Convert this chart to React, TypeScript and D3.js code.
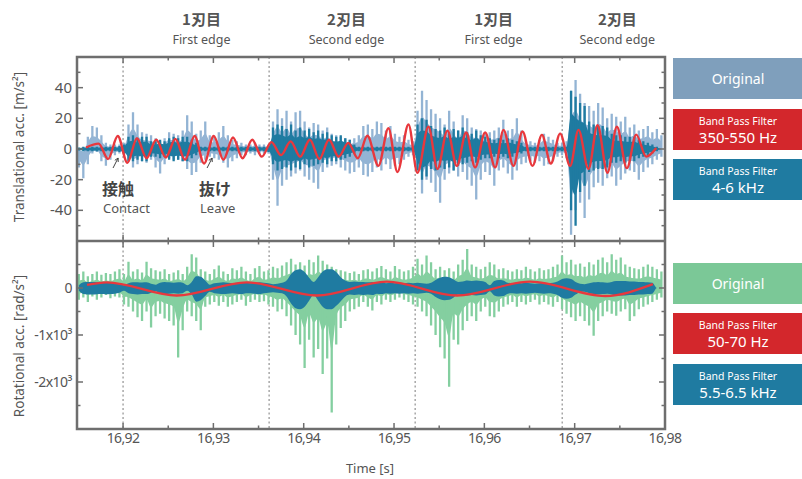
import React from 'react';
import * as d3 from 'd3';

// sampled envelopes: sample i at time T0 + i*DT
const T0 = 16.9151;
const DT = 0.0005;

const topOrigU = [0,-3,8,15,14,9,4,3,3,3, 4,16,24,16,11,10,9,7,5,7, 11,10,9,12,22,18,10,12,18,9, 8,11,15,9,6,5,4,3,3,4, 3,3,3,18,26,20,25,18,24,25, 18,14,17,16,12,14,10,9,8,7, 6,7,9,15,16,13,18,17,12,15, 10,8,9,6,5,25,38,32,26,23, 20,16,25,18,12,22,20,14,13,12, 10,11,12,14,19,12,13,20,12,6, 5,4,6,10,8,6,4,4,5,38, 45,36,30,28,25,30,27,20,23,21, 18,21,14,16,12,13,15,11,13,9];
const topOrigL = [-12,-19,-10,-3,-2,-8,-11,-7,-4,-3, -4,-8,-12,-10,-8,-9,-7,-12,-16,-10, -6,-7,-7,-8,-13,-17,-15,-9,-7,-5, -6,-7,-9,-12,-8,-6,-4,-4,-3,-4, -3,-3,-3,-20,-37,-24,-20,-18,-16,-14, -18,-20,-22,-26,-15,-12,-11,-10,-12,-14, -16,-15,-12,-17,-18,-15,-12,-14,-10,-13, -11,-10,-7,-5,-4,-14,-29,-20,-22,-28, -35,-20,-16,-14,-18,-15,-20,-24,-33,-20, -15,-17,-24,-14,-12,-16,-20,-14,-10,-9, -8,-9,-8,-11,-10,-8,-5,-4,-6,-56, -40,-35,-45,-33,-25,-22,-24,-19,-18,-24, -20,-16,-14,-15,-20,-15,-12,-10,-7,-5];
const topBandU = [1,1.5,1.5,1.5,1.5,1.5,1.5,1.5,1.5,2, 3,8,9,7,8,8,5,5,6,5, 7,8,7,8,8,6,4,1.5,1.5,1.5, 1.5,1.5,1.5,1.5,1.5,1.5,1.5,1.5,1.5,1.5, 1.5,1.5,2,14,16,15,13,16,12,14, 12,13,11,12,10,11,9,8,9,7, 6,3,1.5,1.5,1.5,1.5,1.5,1.5,1.5,1.5, 1.5,1.5,1.5,1.5,1.5,16,20,19,15,13, 12,14,11,13,12,14,11,10,12,9, 8,7,6,7,6,7,6,5,4,1.5, 1.5,1.5,1.5,1.5,1.5,1.5,1.5,1.5,1.5,38, 34,30,28,18,16,15,15,14,10,9, 9,8,8,8,6,5,4,3,1.5,0];
const topBandL = [-1,-1.5,-1.5,-1.5,-1.5,-1.5,-1.5,-1.5,-1.5,-2, -3,-8,-8,-7,-8,-8,-5,-5,-6,-5, -7,-8,-7,-8,-8,-6,-4,-1.5,-1.5,-1.5, -1.5,-1.5,-1.5,-1.5,-1.5,-1.5,-1.5,-1.5,-1.5,-1.5, -1.5,-1.5,-2,-10,-14,-13,-12,-14,-12,-13, -10,-12,-11,-10,-9,-10,-8,-8,-7,-6, -5,-3,-1.5,-1.5,-1.5,-1.5,-1.5,-1.5,-1.5,-1.5, -1.5,-1.5,-1.5,-1.5,-1.5,-14,-20,-18,-13,-14, -12,-13,-12,-14,-11,-10,-9,-8,-9,-7, -6,-6,-5,-6,-5,-6,-5,-4,-3,-1.5, -1.5,-1.5,-1.5,-1.5,-1.5,-1.5,-1.5,-1.5,-1.5,-40, -50,-28,-24,-15,-14,-13,-13,-12,-9,-9, -8,-9,-8,-8,-6,-5,-4,-3,-1.5,0];
const topRedT = [16.9159,16.91729,16.91834,16.91941,16.92048,16.92154,16.9226,16.92367,16.92473,16.92579,16.92686,16.92792,16.92897,16.93004,16.93111,16.93217,16.93323,16.9343,16.93536,16.93642,16.93749,16.93855,16.93961,16.94068,16.94174,16.9428,16.94387,16.94493,16.94599,16.94705,16.94827,16.94938,16.95038,16.9516,16.95259,16.95381,16.95481,16.95591,16.95696,16.95798,16.95898,16.96009,16.9612,16.96212,16.96322,16.96422,16.96533,16.96637,16.96736,16.96839,16.9695,16.97042,16.97153,16.97253,16.97363,16.97467,16.97578,16.97681,16.97792,16.97903];
const topRedV = [1,3.5,-6.5,8.5,-9,7,-6,6,-5.5,6.5,-7,8.5,-9.5,8.5,-7,7.5,-6,6,-5,4.5,-4,5,-5,6,-6.5,6,-5,4,-6,8.6,-11,13.5,-15,16,-15.5,14.5,-13,12,-11,10.8,-12,10.8,-12,12.5,-11,11.4,-11,9.2,-9.5,10,-11,12.5,-13,15.5,-15.5,14.5,-12.5,9.4,-5,0.6];

const botOrigU = [300,350,250,300,350,280,320,300,350,400, 300,560,350,400,330,560,420,380,350,400, 300,330,380,300,450,720,650,400,350,300, 400,480,350,300,420,380,450,350,300,420, 470,350,380,450,420,480,550,620,500,550, 480,600,550,690,580,500,450,400,380,350, 320,350,300,380,400,350,420,470,400,350, 470,400,350,380,450,620,500,690,550,400, 450,380,420,350,500,600,830,500,450,400, 450,550,500,400,420,380,350,400,380,450, 400,350,420,380,400,450,500,690,550,600, 500,520,450,550,500,600,650,550,720,600, 650,500,450,420,400,450,500,450,400,350];
const botOrigL = [-250,-200,-300,-180,-250,-200,-150,-220,-180,-200, -350,-400,-500,-620,-700,-500,-840,-600,-550,-650, -700,-800,-1480,-900,-500,-600,-700,-900,-400,-350, -300,-380,-300,-400,-350,-300,-250,-380,-300,-250, -300,-280,-350,-400,-500,-450,-600,-800,-1000,-1200, -1700,-1100,-1480,-1300,-1830,-1500,-2650,-1200,-850,-700, -500,-450,-400,-300,-400,-480,-300,-350,-250,-300, -250,-200,-250,-300,-350,-400,-500,-600,-800,-1000, -1260,-1500,-2100,-1100,-1200,-900,-700,-600,-700,-500, -400,-600,-620,-500,-400,-350,-300,-400,-300,-350, -300,-250,-350,-300,-350,-400,-300,-450,-550,-620, -700,-600,-700,-800,-1015,-700,-600,-500,-550,-590, -500,-450,-700,-600,-450,-400,-350,-300,-250,-200];
const botBandU = [60,120,130,130,125,120,125,120,110,90, 60,100,120,125,115,120,90,70,110,130, 120,110,120,110,60,130,250,240,160,70, 100,110,120,110,100,110,120,110,100,110, 120,110,100,80,90,110,160,300,380,400, 340,220,130,230,350,400,400,340,230,160, 130,140,130,130,120,130,110,120,100,110, 100,110,100,110,100,110,100,90,110,170, 220,240,230,180,130,140,160,150,160,150, 130,60,150,170,160,110,100,110,100,110, 100,90,100,110,100,110,140,190,210,190, 130,90,80,100,120,130,120,110,130,150, 150,150,140,140,130,130,120,110,0,0];
const botBandL = [-60,-130,-140,-140,-135,-130,-135,-130,-120,-100, -60,-110,-130,-140,-130,-130,-100,-70,-120,-130, -120,-110,-120,-110,-60,-140,-290,-260,-170,-80, -110,-120,-130,-120,-110,-120,-130,-110,-110,-120, -130,-110,-100,-90,-100,-110,-180,-330,-430,-450, -400,-270,-150,-270,-400,-450,-450,-380,-280,-180, -140,-150,-140,-150,-140,-150,-120,-130,-110,-120, -110,-120,-110,-120,-110,-120,-110,-100,-120,-190, -240,-260,-250,-200,-140,-150,-160,-150,-160,-150, -140,-70,-160,-180,-170,-120,-110,-120,-110,-120, -110,-100,-110,-120,-110,-120,-150,-210,-230,-210, -140,-90,-80,-110,-130,-140,-130,-120,-140,-160, -160,-160,-150,-150,-140,-140,-130,-120,0,0];
const botRedT = [16.91601,16.91819,16.92595,16.9337,16.94145,16.9492,16.95696,16.96507,16.97338,16.97866];
const botRedV = [65,120,-160,120,-160,135,-160,135,-170,80];

const xTickValues = [16.92, 16.93, 16.94, 16.95, 16.96, 16.97, 16.98];
const xTickLabels = ['16,92', '16,93', '16,94', '16,95', '16,96', '16,97', '16,98'];
const topYTickValues = [40, 20, 0, -20, -40];
const topYTickLabels = ['40', '20', '0', '-20', '-40'];
const botYTickValues = [0, -1000, -2000];
const botYTickLabels = ['0', '-1x10³', '-2x10³'];
const edgeBoundaries = [16.92, 16.93617, 16.95234, 16.96862];
const edgeTitleT = [16.92868, 16.94474, 16.96102, 16.97472];
const edgeTitlesJa = ['1刃目', '2刃目', '1刃目', '2刃目'];
const edgeTitlesEn = ['First edge', 'Second edge', 'First edge', 'Second edge'];

const C_ORIG_TOP = '#93b4d4';
const C_ORIG_TOP_BOX = '#7f9fbc';
const C_ORIG_BOT = '#84cfa0';
const C_ORIG_BOT_BOX = '#7bc897';
const C_TEAL = '#1f7ba1';
const C_RED = '#e8383d';
const C_RED_BOX = '#d3272c';
const C_FRAME = '#6e6e6e';
const C_TEXT = '#555';
const FONT = '"Noto Sans", "Open Sans", sans-serif';
const CJK = '"Noto Sans CJK JP", sans-serif';

const L = 77, R = 665, TOP = 57, MID = 241, BOT = 429;

export default function App() {
  const x = d3.scaleLinear().domain([16.9149, 16.98]).range([L, R]);
  const yT = d3.scaleLinear().domain([-60, 60]).range([MID, TOP]);
  const yB = d3.scaleLinear().domain([-3000, 1000]).range([BOT, MID]);
  const ts = (i: number) => T0 + i * DT;

  // each sample drawn as a vertical stroke from its low to its high value
  const spikes = (U: number[], Lw: number[], y: d3.ScaleLinear<number, number>) => {
    let d = '';
    U.forEach((u, i) => {
      const xa = x(ts(i)).toFixed(2);
      d += 'M' + xa + ',' + y(u).toFixed(2) + 'V' + y(Lw[i]).toFixed(2);
    });
    return d;
  };
  const band = (U: number[], Lw: number[], y: d3.ScaleLinear<number, number>, curve: any) =>
    d3.area<number>().x((_, i) => x(ts(i))).y0((_, i) => y(Lw[i])).y1((d) => y(d)).curve(curve)(U) || '';
  const coreBand = (U: number[], Lw: number[], y: d3.ScaleLinear<number, number>, k: number) =>
    d3.area<number>().x((_, i) => x(ts(i))).y0((_, i) => y(Lw[i] * k)).y1((d) => y(d * k)).curve(d3.curveMonotoneX)(U) || '';
  const redLine = (T: number[], V: number[], y: d3.ScaleLinear<number, number>) =>
    d3.line<number>().x((t) => x(t)).y((_, i) => y(V[i])).curve(d3.curveMonotoneX)(T) || '';

  const xMinor = d3.range(0, 14).map((k) => 16.915 + k * 0.005);
  const topMinor = d3.range(-50, 51, 10);
  const botMinor = d3.range(-2500, 501, 500);

  const tickLines: JSX.Element[] = [];
  xMinor.forEach((t, k) => {
    const major = Math.abs(Math.round(t * 100) - t * 100) < 1e-6;
    const len = major ? 6 : 3.5;
    const xx = x(t);
    if (xx < L + 1 || xx > R - 1) return;
    tickLines.push(<line key={'xt' + k} x1={xx} x2={xx} y1={TOP} y2={TOP + len} />);
    tickLines.push(<line key={'xm1' + k} x1={xx} x2={xx} y1={MID} y2={MID - len} />);
    tickLines.push(<line key={'xm2' + k} x1={xx} x2={xx} y1={MID} y2={MID + len} />);
    tickLines.push(<line key={'xb' + k} x1={xx} x2={xx} y1={BOT} y2={BOT - len} />);
  });
  topMinor.forEach((v, k) => {
    const len = v % 20 === 0 ? 6 : 3.5;
    tickLines.push(<line key={'ytl' + k} x1={L} x2={L + len} y1={yT(v)} y2={yT(v)} />);
    tickLines.push(<line key={'ytr' + k} x1={R} x2={R - len} y1={yT(v)} y2={yT(v)} />);
  });
  botMinor.forEach((v, k) => {
    const len = v % 1000 === 0 ? 6 : 3.5;
    tickLines.push(<line key={'ybl' + k} x1={L} x2={L + len} y1={yB(v)} y2={yB(v)} />);
    tickLines.push(<line key={'ybr' + k} x1={R} x2={R - len} y1={yB(v)} y2={yB(v)} />);
  });

  const arrow = (t1: number, v1: number, t2: number, v2: number, key: string) => {
    const x1 = x(t1), y1 = yT(v1), x2 = x(t2), y2 = yT(v2);
    const a = Math.atan2(y2 - y1, x2 - x1);
    const h = 4;
    const p1 = [x2 - h * Math.cos(a - 0.5), y2 - h * Math.sin(a - 0.5)];
    const p2 = [x2 - h * Math.cos(a + 0.5), y2 - h * Math.sin(a + 0.5)];
    return (
      <g key={key} stroke="#444" strokeWidth={1} fill="none">
        <line x1={x1} y1={y1} x2={x2} y2={y2} />
        <path d={`M${p1[0]},${p1[1]}L${x2},${y2}L${p2[0]},${p2[1]}`} />
      </g>
    );
  };

  const legendBox = (y0: number, color: string, l1: string, l2: string | null, key: string) => (
    <g key={key}>
      <rect x={673} y={y0} width={135} height={41} fill={color} />
      {l2 === null ? (
        <text x={738} y={y0 + 25.5} fill="#fff" fontSize={14} textAnchor="middle" fontFamily={FONT}>{l1}</text>
      ) : (
        <>
          <text x={738} y={y0 + 16} fill="#fff" fontSize={10.5} textAnchor="middle" fontFamily={FONT}>{l1}</text>
          <text x={738} y={y0 + 34} fill="#fff" fontSize={15} textAnchor="middle" fontFamily={FONT}>{l2}</text>
        </>
      )}
    </g>
  );

  return (
    <svg width={802} height={479} style={{ position: 'absolute', left: 0, top: 0, background: '#fff' }}>
      <defs>
        <clipPath id="clipTop"><rect x={L} y={TOP} width={R - L} height={MID - TOP} /></clipPath>
        <clipPath id="clipBot"><rect x={L} y={MID} width={R - L} height={BOT - MID} /></clipPath>
      </defs>

      {/* boundaries */}
      {edgeBoundaries.map((t, i) => (
        <line key={'eb' + i} x1={x(t)} x2={x(t)} y1={TOP} y2={BOT} stroke="#999" strokeWidth={1.3} strokeDasharray="2,2.5" />
      ))}

      {/* top panel */}
      <g clipPath="url(#clipTop)">
        <path d={coreBand(topOrigU, topOrigL, yT, 0.55)} fill={C_ORIG_TOP} />
        <path d={spikes(topOrigU, topOrigL, yT)} fill="none" stroke={C_ORIG_TOP} strokeWidth={2.3} />
        <path d={coreBand(topBandU, topBandL, yT, 0.6)} fill={C_TEAL} />
        <path d={spikes(topBandU, topBandL, yT)} fill="none" stroke={C_TEAL} strokeWidth={2.3} />
        <path d={redLine(topRedT, topRedV, yT)} fill="none" stroke={C_RED} strokeWidth={2.4} />
      </g>

      {/* bottom panel */}
      <g clipPath="url(#clipBot)">
        <path d={coreBand(botOrigU, botOrigL, yB, 0.5)} fill={C_ORIG_BOT} />
        <path d={spikes(botOrigU, botOrigL, yB)} fill="none" stroke={C_ORIG_BOT} strokeWidth={2.3} />
        <path d={band(botBandU, botBandL, yB, d3.curveMonotoneX)} fill={C_TEAL} />
        <path d={redLine(botRedT, botRedV, yB)} fill="none" stroke={C_RED} strokeWidth={2.4} />
      </g>

      {/* ticks */}
      <g stroke={C_FRAME} strokeWidth={1.5}>{tickLines}</g>

      {/* frame */}
      <rect x={L} y={TOP} width={R - L} height={BOT - TOP} fill="none" stroke={C_FRAME} strokeWidth={2.5} />
      <line x1={L} x2={R} y1={MID} y2={MID} stroke={C_FRAME} strokeWidth={2.5} />

      {/* y tick labels */}
      {topYTickValues.map((v, i) => (
        <text key={'tyl' + i} x={72} y={yT(v) + 5} fontSize={15} fill={C_TEXT} textAnchor="end" fontFamily={FONT}>{topYTickLabels[i]}</text>
      ))}
      {botYTickValues.map((v, i) => (
        <text key={'byl' + i} x={72} y={yB(v) + 5} fontSize={14} fill={C_TEXT} textAnchor="end" fontFamily={FONT} letterSpacing={-0.5}>{botYTickLabels[i]}</text>
      ))}
      {/* x tick labels */}
      {xTickValues.map((t, i) => (
        <text key={'xl' + i} x={x(t)} y={443} fontSize={14} fill={C_TEXT} textAnchor="middle" fontFamily={FONT} letterSpacing={-0.6}>{xTickLabels[i]}</text>
      ))}
      <text x={370} y={473} fontSize={13} fill={C_TEXT} textAnchor="middle" fontFamily={FONT}>Time [s]</text>

      {/* axis titles */}
      <text transform="translate(24,147) rotate(-90)" fontSize={13.5} fill={C_TEXT} textAnchor="middle" fontFamily={FONT}>Translational acc. [m/s²]</text>
      <text transform="translate(24,346) rotate(-90)" fontSize={13.5} fill={C_TEXT} textAnchor="middle" fontFamily={FONT}>Rotational acc. [rad/s²]</text>

      {/* edge titles */}
      {edgeTitleT.map((t, i) => (
        <g key={'et' + i}>
          <text x={x(t)} y={25} fontSize={15} fontWeight="bold" fill={C_TEXT} textAnchor="middle" fontFamily={CJK}>{edgeTitlesJa[i]}</text>
          <text x={x(t)} y={44} fontSize={12.5} fill={C_TEXT} textAnchor="middle" fontFamily={FONT}>{edgeTitlesEn[i]}</text>
        </g>
      ))}

      {/* annotations */}
      {arrow(16.91889, -12.4, 16.91945, -5.9, 'a1')}
      {arrow(16.9293, -12.4, 16.92986, -5.9, 'a2')}
      <text x={102} y={195} fontSize={16} fontWeight="bold" fill="#444" fontFamily={CJK}>接触</text>
      <text x={103} y={213} fontSize={13} fill={C_TEXT} fontFamily={FONT}>Contact</text>
      <text x={199} y={195} fontSize={16} fontWeight="bold" fill="#444" fontFamily={CJK}>抜け</text>
      <text x={200} y={213} fontSize={13} fill={C_TEXT} fontFamily={FONT}>Leave</text>

      {/* legends */}
      {legendBox(58, C_ORIG_TOP_BOX, 'Original', null, 'l1')}
      {legendBox(109, C_RED_BOX, 'Band Pass Filter', '350-550 Hz', 'l2')}
      {legendBox(159, C_TEAL, 'Band Pass Filter', '4-6 kHz', 'l3')}
      {legendBox(263, C_ORIG_BOT_BOX, 'Original', null, 'l4')}
      {legendBox(313, C_RED_BOX, 'Band Pass Filter', '50-70 Hz', 'l5')}
      {legendBox(364, C_TEAL, 'Band Pass Filter', '5.5-6.5 kHz', 'l6')}
    </svg>
  );
}
